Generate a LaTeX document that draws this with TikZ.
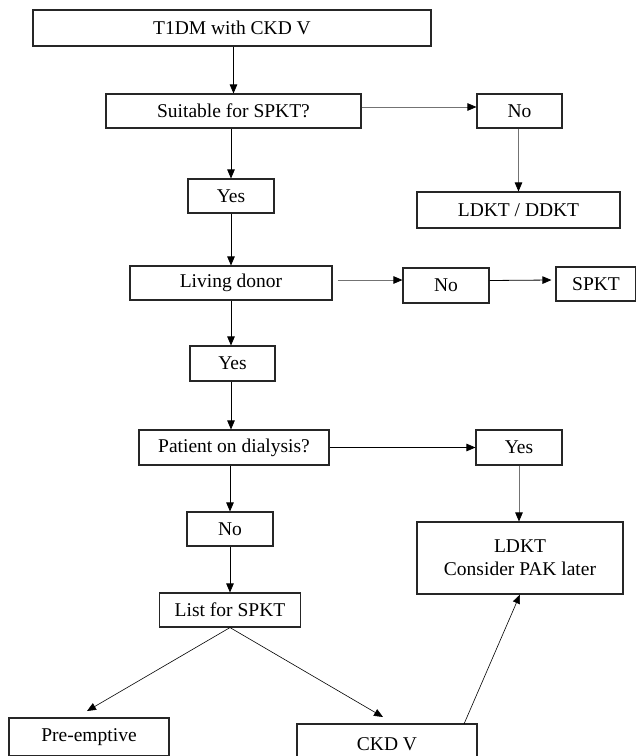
\documentclass[tikz,border=0pt]{standalone}
\usepackage{fontspec}
\setmainfont{Liberation Serif}
\usetikzlibrary{arrows.meta,calc}
\begin{document}
\begin{tikzpicture}[x=1pt,y=-1pt,
  box/.style={draw=black!85,line width=1.1pt,rectangle,inner sep=0pt,align=center,
    font=\fontsize{19.5}{23}\selectfont},
  arr/.style={line width=0.8pt,-{Triangle[length=9pt,width=7.5pt]}},
  garr/.style={line width=0.8pt,draw=black!55,-{Triangle[length=9pt,width=7.5pt,color=black]}}]
\useasboundingbox (0,0) rectangle (636,756);
\clip (0,0) rectangle (636,756);
\node[box,minimum width=398pt,minimum height=36pt] (t1dm) at (232,28) {T1DM with CKD V};
\node[box,minimum width=255pt,minimum height=34pt] (suit) at (233.5,111) {Suitable for SPKT?};
\node[box,minimum width=85pt,minimum height=34pt] (no1) at (519.5,111) {No};
\node[box,minimum width=203pt,minimum height=36pt] (ldkt1) at (518.5,210) {LDKT / DDKT};
\node[box,minimum width=86pt,minimum height=34pt] (yes1) at (231,196) {Yes};
\node[box,minimum width=202pt,minimum height=34pt] (living) at (231,283) {Living donor};
\node[box,minimum width=86pt,minimum height=35pt] (no2) at (446,285.5) {No};
\node[box,minimum width=80pt,minimum height=34pt] (spkt) at (596,284) {SPKT};
\node[box,minimum width=85pt,minimum height=35pt] (yes2) at (232.5,363.5) {Yes};
\node[box,minimum width=190pt,minimum height=35pt] (patient) at (234,447.5) {Patient on dialysis?};
\node[box,minimum width=86pt,minimum height=35pt] (yes3) at (519,447.5) {Yes};
\node[box,minimum width=86pt,minimum height=34pt] (no3) at (230,529) {No};
\node[box,minimum width=141pt,minimum height=34pt] (list) at (230,610) {List for SPKT};
\node[box,minimum width=206pt,minimum height=72pt] (ldkt2) at (520,558) {LDKT\\Consider PAK later};
\node[box,minimum width=160pt,minimum height=38pt] (pre) at (89,737) {Pre-emptive};
\node[box,minimum width=180pt,minimum height=40pt] (ckd) at (387,744) {CKD V};
\coordinate (preTip) at (87,711);
\coordinate (ckdTip) at (383,717);
\coordinate (ckdOut) at (464,724);
\draw[arr] (t1dm.south -| suit.north) -- (suit.north);
\draw[garr] ($(suit.east)+(0,-4)$) -- ($(no1.west)+(0,-4)$);
\draw[garr] (no1.south -| ldkt1.north) -- (ldkt1.north);
\draw[arr] (suit.south -| yes1.north) -- (yes1.north);
\draw[arr] (yes1.south) -- (living.north);
\draw[garr] ($(living.east)+(5,-3)$) -- ($(no2.west)+(0,-5.5)$);
\draw[arr] ($(no2.east)+(0,-5)$) -- ($(spkt.west)+(-4,-4)$);
\draw[arr] (living.south) -- (living.south |- yes2.north);
\draw[arr] (yes2.south -| living.south) -- (living.south |- patient.north);
\draw[arr] (patient.east) -- (yes3.west);
\draw[garr] (yes3.south) -- (yes3.south |- ldkt2.north);
\draw[arr] (patient.south -| no3.north) -- (no3.north);
\draw[arr] (no3.south) -- (list.north);
\draw[line width=0.6pt,-{Triangle[length=9pt,width=7.5pt]}] (list.south) -- (preTip);
\draw[line width=0.6pt,-{Triangle[length=9pt,width=7.5pt]}] (list.south) -- (ckdTip);
\draw[line width=0.6pt,-{Triangle[length=9pt,width=7.5pt]}] (ckdOut) -- (ldkt2.south);
\end{tikzpicture}
\end{document}
